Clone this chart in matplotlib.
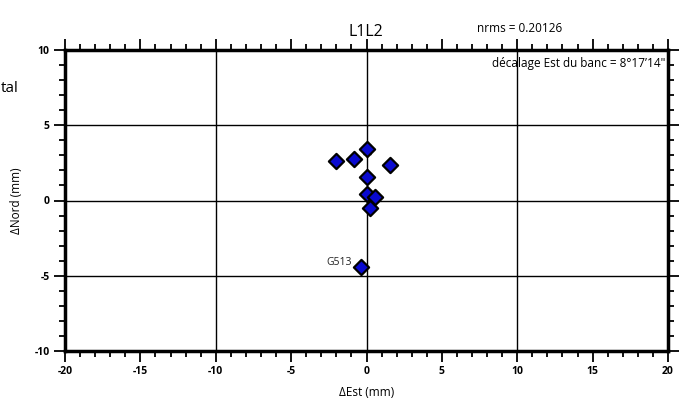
import matplotlib
matplotlib.use("Agg")
import matplotlib.pyplot as plt
from matplotlib.ticker import MultipleLocator

plt.rcParams['font.family'] = ['Open Sans', 'DejaVu Sans']
plt.rcParams['axes.unicode_minus'] = False

# data
east = [0.0, -2.05, -0.85, 1.55, 0.0, 0.0, 0.55, 0.25, -0.35]
north = [3.4, 2.6, 2.75, 2.35, 1.55, 0.4, 0.2, -0.5, -4.4]
north_err = [0.3, 0.0, 0.0, 0.0, 0.15, 0.15, 0.0, 0.0, 0.0]
label_point = "G513"
label_idx = 8
grid_x = [-10, 0, 10]
grid_y = [-5, 0, 5]
xlim = (-20, 20)
ylim = (-10, 10)

fig = plt.figure(figsize=(6.81, 4.05), dpi=100)
ax = fig.add_axes([65/681, 1-351/405, (668-65)/681, (351-50)/405])

for gx in grid_x:
    ax.axvline(gx, color='black', lw=1.0, zorder=1)
for gy in grid_y:
    ax.axhline(gy, color='black', lw=1.0, zorder=1)

ax.errorbar(east, north, yerr=north_err, fmt='none', ecolor='black', elinewidth=1.0, capsize=3, zorder=2)
ax.scatter(east, north, marker='D', s=60, facecolor='#0a0ad0', edgecolor='black', linewidth=1.6, zorder=3)
ax.text(east[label_idx] - 0.6, north[label_idx] + 0.25, label_point, ha='right', va='center', fontsize=7.5, color='#222222')

ax.set_xlim(*xlim)
ax.set_ylim(*ylim)
ax.xaxis.set_major_locator(MultipleLocator(5))
ax.xaxis.set_minor_locator(MultipleLocator(1))
ax.yaxis.set_major_locator(MultipleLocator(5))
ax.yaxis.set_minor_locator(MultipleLocator(1))
ax.tick_params(which='both', direction='out', top=True, right=True, width=1.3, color='black')
ax.tick_params(which='major', length=8, labelsize=7.5, pad=3)
ax.tick_params(which='minor', length=4)
ax.tick_params(labeltop=False, labelright=False)
for lab in ax.get_xticklabels() + ax.get_yticklabels():
    lab.set_fontweight('bold')
for sp in ax.spines.values():
    sp.set_linewidth(2.5)

ax.set_xlabel('ΔEst (mm)', fontsize=8.5, labelpad=6)
ax.set_ylabel('ΔNord (mm)', fontsize=8.5, labelpad=8)

fig.text(366/681, 1-32/405, 'L1L2', ha='center', va='center', fontsize=11.5)
fig.text(520/681, 1-28/405, 'nrms = 0.20126', ha='center', va='center', fontsize=8.5)
ax.text(0.995, 0.955, 'décalage Est du banc = 8°17’14"', transform=ax.transAxes, ha='right', va='center', fontsize=8.5)
fig.text(1/681, 1-88/405, 'tal', ha='left', va='center', fontsize=11)

fig.savefig('out.png', dpi=100)
